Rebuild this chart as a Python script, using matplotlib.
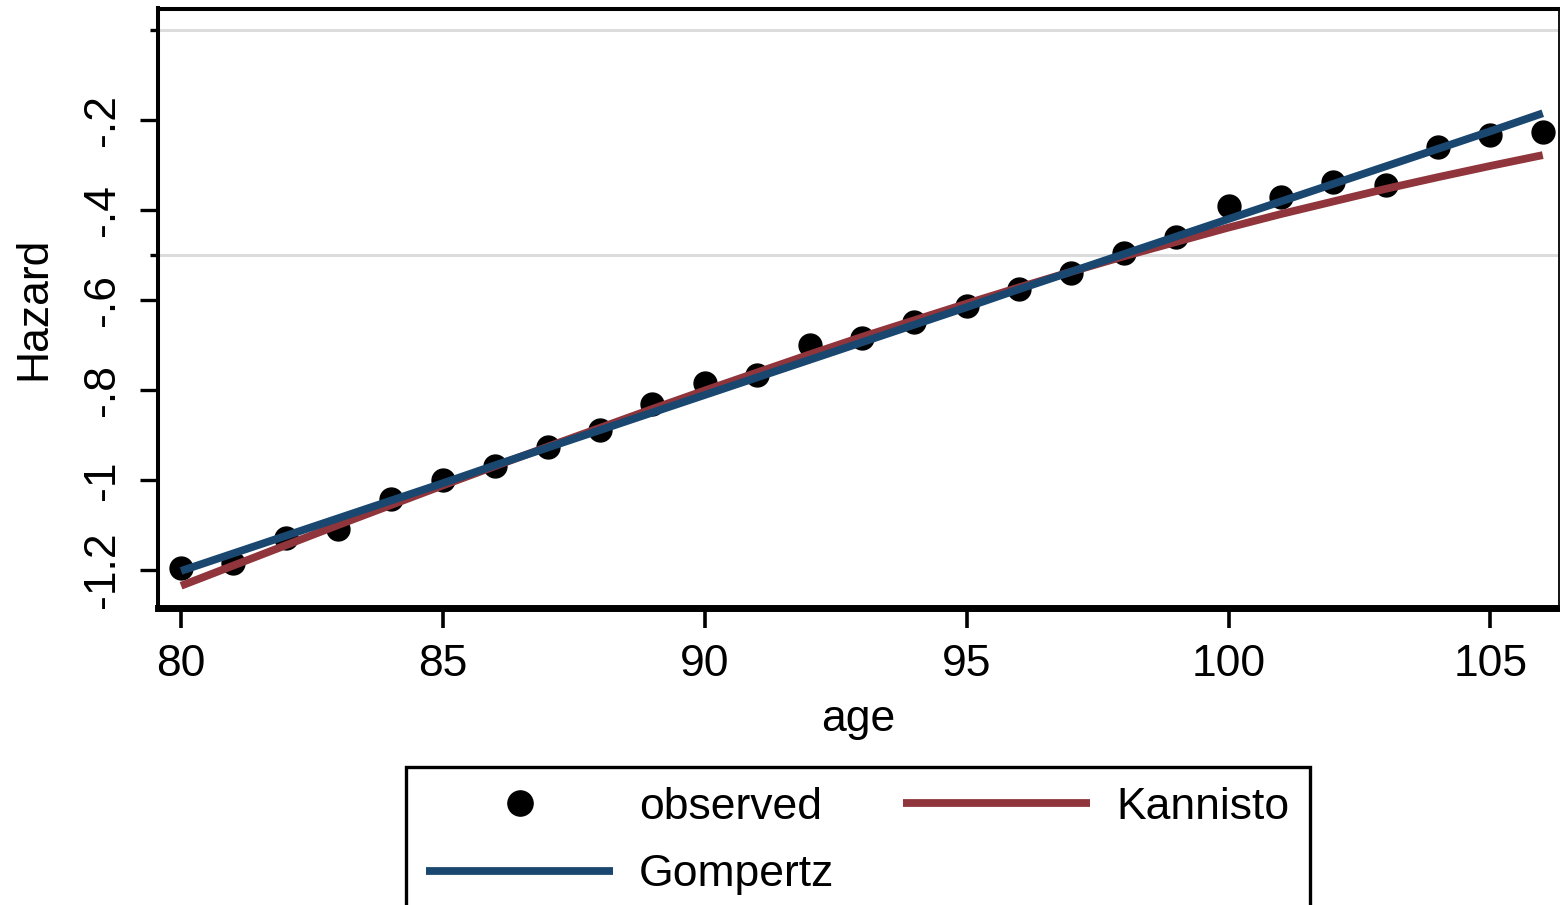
import matplotlib
matplotlib.use("Agg")
import matplotlib.pyplot as plt
from matplotlib.ticker import FixedLocator

# ---- data ----
ages = [80, 81, 82, 83, 84, 85, 86, 87, 88, 89, 90, 91, 92, 93,
        94, 95, 96, 97, 98, 99, 100, 101, 102, 103, 104, 105, 106]
observed = [-1.196, -1.184, -1.128, -1.108, -1.042, -1.000, -0.969, -0.927,
            -0.889, -0.832, -0.785, -0.766, -0.700, -0.685, -0.648, -0.613,
            -0.575, -0.540, -0.495, -0.460, -0.391, -0.371, -0.338, -0.344,
            -0.260, -0.233, -0.227]
kannisto = [-1.235, -1.190, -1.145, -1.100, -1.056, -1.012, -0.969, -0.926,
            -0.884, -0.842, -0.801, -0.761, -0.721, -0.682, -0.645, -0.608,
            -0.572, -0.537, -0.503, -0.471, -0.439, -0.409, -0.381, -0.353,
            -0.327, -0.302, -0.278]
gompertz = [-1.202, -1.163, -1.124, -1.085, -1.046, -1.007, -0.967, -0.928,
            -0.889, -0.850, -0.811, -0.772, -0.733, -0.694, -0.655, -0.616,
            -0.576, -0.537, -0.498, -0.459, -0.420, -0.381, -0.342, -0.303,
            -0.264, -0.225, -0.185]

xticks = [80, 85, 90, 95, 100, 105]
yticks = [-1.2, -1.0, -0.8, -0.6, -0.4, -0.2]
ytick_labels = ["-1.2", "-1", "-.8", "-.6", "-.4", "-.2"]
ygrid = [-1.0, -0.5, 0.0]

# ---- style ----
plt.rcParams['font.family'] = ['Liberation Sans', 'DejaVu Sans']
FS = 32
RED = "#90353b"
BLUE = "#1a476f"

W, H = 1560, 905
fig = plt.figure(figsize=(W / 100, H / 100), dpi=100)
left, right, top, bottom = 157.5, 1559.0, 8.5, 607.5
ax = fig.add_axes([left / W, (H - bottom) / H, (right - left) / W, (bottom - top) / H])

ax.plot(ages, observed, linestyle="none", marker="o", markersize=16.5,
        color="black", label="observed", zorder=2)
ax.plot(ages, kannisto, color=RED, linewidth=5.6, label="Kannisto",
        solid_capstyle="butt", zorder=3)
ax.plot(ages, gompertz, color=BLUE, linewidth=5.6, label="Gompertz",
        solid_capstyle="butt", zorder=4)

ax.set_xlim(79.55, 106.31)
ax.set_ylim(-1.2833, 0.0478)

ax.set_xticks(xticks)
ax.set_xticklabels([str(t) for t in xticks])
ax.set_yticks(yticks)
ax.set_yticklabels(ytick_labels)
ax.yaxis.set_minor_locator(FixedLocator(ygrid))
ax.grid(False)
ax.grid(True, axis="y", which="minor", color="#dcdcdc", linewidth=2.2, zorder=0)
ax.set_axisbelow(True)

ax.tick_params(axis="x", which="major", length=14.4, width=2.6, pad=12,
               labelsize=FS, direction="out")
ax.tick_params(axis="y", which="major", length=13, width=2.4, pad=11.5,
               labelsize=FS, direction="out", labelrotation=90)
ax.tick_params(axis="y", which="minor", length=5.8, width=2.4, direction="out")
for lab in ax.get_yticklabels():
    lab.set_va("center")

ax.spines["left"].set_linewidth(2.9)
ax.spines["top"].set_linewidth(2.9)
ax.spines["bottom"].set_linewidth(5.0)
ax.spines["right"].set_linewidth(1.3)

ax.set_xlabel("age", fontsize=FS)
ax.set_ylabel("Hazard", fontsize=FS)
ax.xaxis.set_label_coords(0.5, -0.153)
ax.yaxis.set_label_coords(-0.0735, 0.5)

handles, labels = ax.get_legend_handles_labels()
order = [0, 2, 1]  # observed, Gompertz (col 1) / Kannisto (col 2)
leg = fig.legend([handles[i] for i in order], [labels[i] for i in order],
                 loc="upper left", bbox_to_anchor=(406 / W, (H - 767) / H),
                 bbox_transform=fig.transFigure, ncol=2, fontsize=FS,
                 frameon=True, fancybox=False, edgecolor="black", framealpha=1,
                 handlelength=4.21, handletextpad=0.585, columnspacing=1.55,
                 labelspacing=0.59, borderpad=0.45, borderaxespad=0,
                 numpoints=1, markerscale=1.1)
leg.get_frame().set_linewidth(2.4)

fig.savefig("out.png", dpi=100)
